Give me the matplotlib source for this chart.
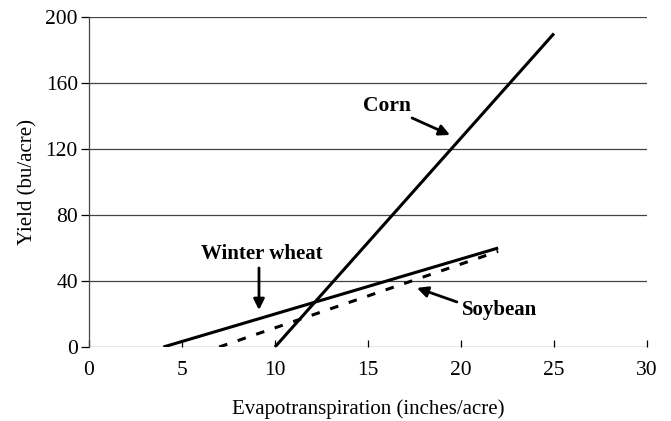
import matplotlib.pyplot as plt

# yield response lines (evapotranspiration in inches/acre, yield in bu/acre)
corn_et = [10, 25]
corn_yield = [0, 190]
wheat_et = [4, 22]
wheat_yield = [0, 60]
soy_et = [7, 22]
soy_yield = [0, 58]

x_ticks = [0, 5, 10, 15, 20, 25, 30]
y_ticks = [0, 40, 80, 120, 160, 200]

plt.rcParams['font.family'] = ['Liberation Serif', 'DejaVu Serif']

fig = plt.figure(figsize=(6.71, 4.21), dpi=100)
ax = fig.add_axes([0.1326, 0.1758, 0.8316, 0.7838])

for y in y_ticks:
    ax.axhline(y, color='#444444', lw=0.9, zorder=1)

ax.plot(corn_et, corn_yield, color='black', lw=2.2, solid_capstyle='butt', zorder=3)
ax.plot(wheat_et, wheat_yield, color='black', lw=2.2, solid_capstyle='butt', zorder=3)
ax.plot(soy_et, soy_yield, color='black', lw=2.2, dashes=(2.8, 3.6), zorder=3)

ax.set_xlim(0, 30)
ax.set_ylim(0, 200)
ax.set_xticks(x_ticks)
ax.set_yticks(y_ticks)
ax.tick_params(axis='x', direction='in', length=5, width=0.9, labelsize=15.5, pad=10)
ax.tick_params(axis='y', direction='out', length=6, width=0.9, labelsize=15.5, pad=2)

for s in ['top', 'right', 'bottom']:
    ax.spines[s].set_visible(False)
ax.spines['left'].set_linewidth(0.9)
ax.spines['left'].set_color('#444444')

ax.set_xlabel('Evapotranspiration (inches/acre)', fontsize=15, labelpad=14)
ax.set_ylabel('Yield (bu/acre)', fontsize=15, labelpad=6)

arrow = dict(arrowstyle='-|>', color='black', lw=2, mutation_scale=16, shrinkA=0, shrinkB=0)
ax.annotate('', xy=(19.41, 128.5), xytext=(17.37, 138.8), arrowprops=arrow, zorder=4)
ax.text(16.02, 146.1, 'Corn', ha='center', va='center', fontsize=15.5, fontweight='bold')
ax.annotate('', xy=(9.14, 22.4), xytext=(9.14, 47.9), arrowprops=arrow, zorder=4)
ax.text(9.30, 56.4, 'Winter wheat', ha='center', va='center', fontsize=15, fontweight='bold')
ax.annotate('', xy=(17.63, 35.8), xytext=(19.78, 27.3), arrowprops=arrow, zorder=4)
ax.text(22.1, 22.4, 'Soybean', ha='center', va='center', fontsize=15, fontweight='bold')

fig.savefig('out.png', dpi=100)
